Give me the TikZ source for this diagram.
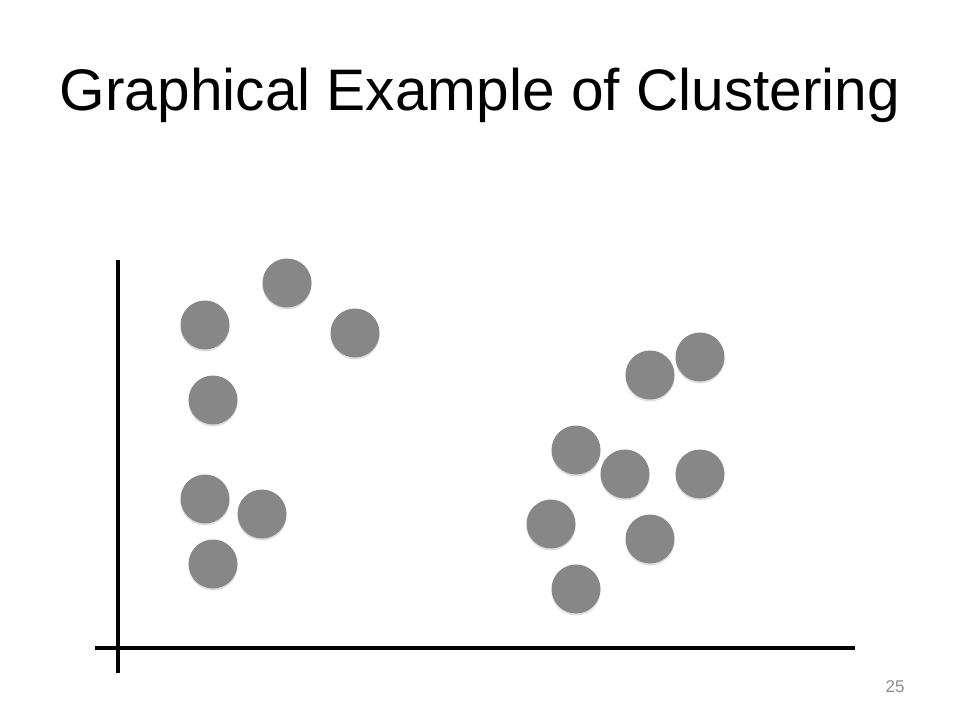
\documentclass[tikz,border=0pt]{standalone}
\usepackage{fontspec}
\setmainfont{Liberation Sans}
\usetikzlibrary{shadows}

\begin{document}
\begin{tikzpicture}[x=1pt, y=-1pt,
  every dot/.style={circle, fill=black!47, minimum size=49pt, inner sep=0pt,
    drop shadow={shadow xshift=0pt, shadow yshift=-2pt, opacity=.25}},
  axis line/.style={line width=3.2pt, black}]

\useasboundingbox (0,0) rectangle (960,720);

\node [anchor=base, font=\fontsize{58.6}{62}\selectfont] (title) at (480,110) {Graphical Example of Clustering};

% axes
\coordinate (y-top) at (118,260);
\coordinate (y-bottom) at (118,673);
\coordinate (x-left) at (95,648);
\coordinate (x-right) at (855,648);
\draw [axis line] (y-top) -- (y-bottom);
\draw [axis line] (x-left) -- (x-right);

% left cluster
\foreach \x/\y [count=\i] in {287/283, 205/325, 355/333, 213/400, 205/499, 262/514, 213/564}
  \node [every dot/.try] (left-\i) at (\x,\y) {};

% right cluster
\foreach \x/\y [count=\i] in {700/357, 650/375, 576/450, 625/474, 700/474, 551/524, 650/539, 576/589}
  \node [every dot/.try] (right-\i) at (\x,\y) {};

\node [anchor=base, text=black!45, font=\fontsize{17}{20}\selectfont] (page) at (895,692) {25};

\end{tikzpicture}
\end{document}
